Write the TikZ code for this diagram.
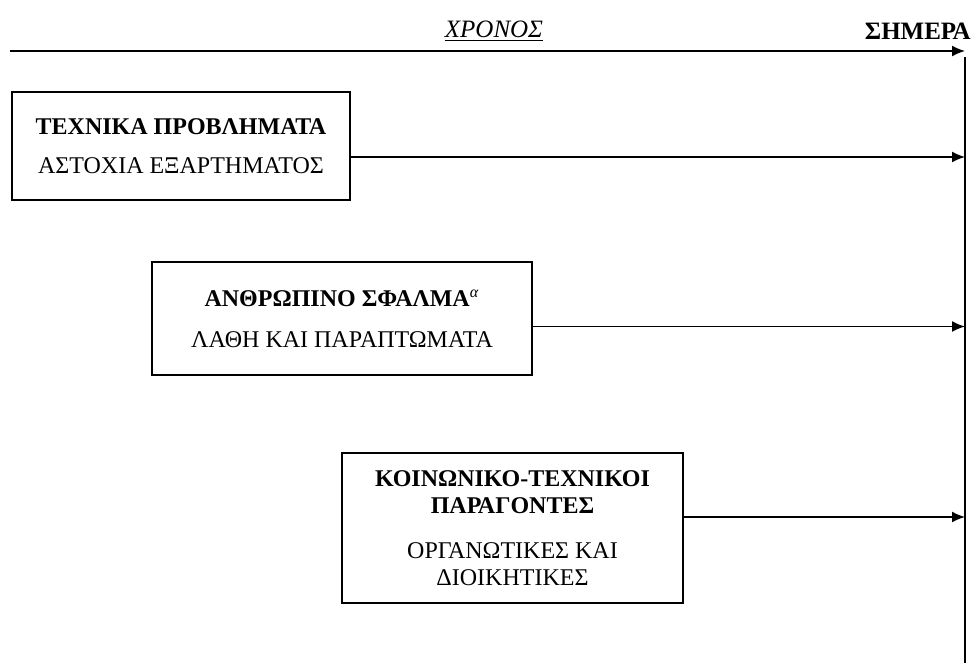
\documentclass[tikz,border=0pt]{standalone}
\usepackage{fontspec}
\setmainfont{Liberation Serif}
\usetikzlibrary{arrows.meta,positioning}
\tikzset{
  cause/.style={draw,line width=1pt,align=center,font=\fontsize{12}{13.5}\selectfont,
    inner sep=2pt},
  label/.style={font=\fontsize{12.5}{14}\selectfont,inner sep=0pt},
  arrow/.style={-{Latex[length=6.5pt,width=5.5pt]},line width=0.8pt}
}
\begin{document}
\begin{tikzpicture}[x=0.5pt,y=-0.5pt]
\useasboundingbox (0,0) rectangle (972,663);
\node[label] (time) at (494,31) {\underline{\textit{ΧΡΟΝΟΣ}}};
\node[label,anchor=east] (today) at (971,31) {\textbf{ΣΗΜΕΡΑ}};
\coordinate (start) at (10,51);
\coordinate (axis) at (965,51);
\coordinate (axisend) at (965,663);
\node[cause,minimum width=169pt,minimum height=54pt] (tech) at (181,146)
  {\textbf{ΤΕΧΝΙΚΑ ΠΡΟΒΛΗΜΑΤΑ}\\[6pt] ΑΣΤΟΧΙΑ ΕΞΑΡΤΗΜΑΤΟΣ};
\node[cause,minimum width=190pt,minimum height=56.5pt] (human) at (342,318.5)
  {\textbf{ΑΝΘΡΩΠΙΝΟ ΣΦΑΛΜΑ}\textsuperscript{\textit{α}}\\[7pt] ΛΑΘΗ ΚΑΙ ΠΑΡΑΠΤΩΜΑΤΑ};
\node[cause,minimum width=170.5pt,minimum height=75pt] (socio) at (512.5,528)
  {\textbf{ΚΟΙΝΩΝΙΚΟ-ΤΕΧΝΙΚΟΙ}\\\textbf{ΠΑΡΑΓΟΝΤΕΣ}\\[9pt] ΟΡΓΑΝΩΤΙΚΕΣ ΚΑΙ\\ΔΙΟΙΚΗΤΙΚΕΣ};
\draw[arrow] (start) -- (axis);
\draw[line width=0.9pt] ([yshift=-3pt]axis) -- (axisend);
\draw[arrow] ([yshift=-5.5pt]tech.east) -- ([yshift=-5.5pt]tech.east -| axis);
\draw[arrow] ([yshift=-4pt]human.east) -- ([yshift=-4pt]human.east -| axis);
\draw[arrow] ([yshift=5.5pt]socio.east) -- ([yshift=5.5pt]socio.east -| axis);
\end{tikzpicture}
\end{document}
